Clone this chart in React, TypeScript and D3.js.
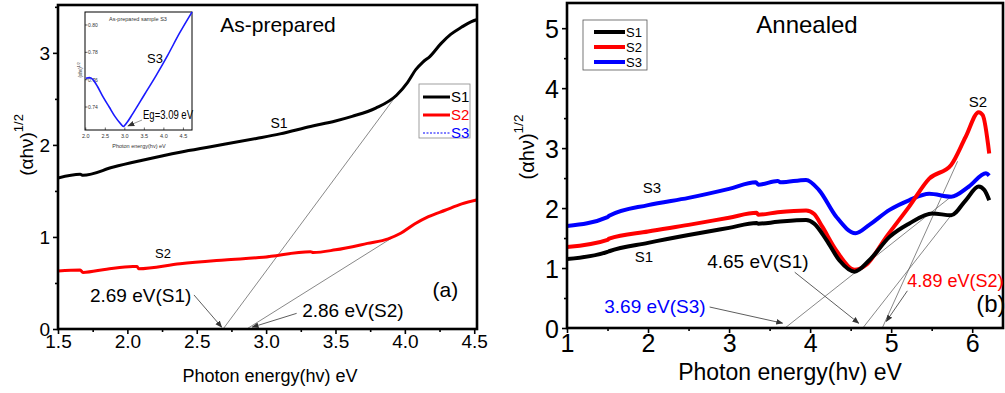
import React, { useEffect, useRef } from 'react';
import * as d3 from 'd3';

type Pt = [number, number];

// (a) as-prepared films
const asPrepS1: Pt[] = [
  [1.5, 1.64], [1.66, 1.68], [1.68, 1.67], [1.9, 1.76], [2.1, 1.83], [2.38, 1.92], [2.6, 1.98],
  [2.93, 2.07], [3.1, 2.12], [3.32, 2.2], [3.5, 2.26], [3.62, 2.31], [3.79, 2.4], [3.94, 2.54],
  [4.02, 2.68], [4.08, 2.82], [4.13, 2.9], [4.18, 2.96], [4.26, 3.1], [4.33, 3.2],
  [4.41, 3.28], [4.48, 3.34], [4.54, 3.37],
];
const asPrepS2: Pt[] = [
  [1.5, 0.63], [1.66, 0.64], [1.68, 0.615], [1.85, 0.65], [2.04, 0.68], [2.07, 0.68], [2.08, 0.655],
  [2.38, 0.71], [2.7, 0.75], [2.98, 0.78], [3.32, 0.84], [3.34, 0.83], [3.5, 0.86], [3.73, 0.93],
  [3.88, 0.98], [3.97, 1.04], [4.07, 1.14], [4.17, 1.22], [4.29, 1.29], [4.41, 1.36], [4.54, 1.41],
];
const asPrepTangents: { from: Pt; to: Pt }[] = [
  { from: [2.69, 0], to: [3.94, 2.54] },
  { from: [2.86, 0], to: [3.96, 1.04] },
];

// inset: as-prepared sample S3
const insetS3: Pt[] = [
  [2.0, 0.761], [2.1, 0.7615], [2.2, 0.7595], [2.3, 0.755], [2.45, 0.747], [2.6, 0.74],
  [2.75, 0.733], [2.9, 0.7275], [2.96, 0.7258], [3.05, 0.7285], [3.2, 0.735], [3.5, 0.749],
  [3.8, 0.763], [4.1, 0.778], [4.4, 0.794], [4.72, 0.8095],
];

// (b) annealed films
const annealS1: Pt[] = [
  [1.0, 1.15], [1.5, 1.27], [1.52, 1.28], [2.0, 1.42], [2.5, 1.55], [3.0, 1.67], [3.34, 1.75],
  [3.36, 1.74], [3.6, 1.77], [3.95, 1.8], [4.05, 1.74], [4.2, 1.47], [4.36, 1.13], [4.55, 0.94],
  [4.73, 1.13], [4.98, 1.52], [5.22, 1.74], [5.51, 1.91], [5.74, 1.88], [5.92, 2.13],
  [6.08, 2.36], [6.15, 2.3], [6.21, 2.13],
];
const annealS2: Pt[] = [
  [1.0, 1.35], [1.5, 1.47], [1.52, 1.49], [2.0, 1.61], [2.5, 1.72], [3.0, 1.84], [3.34, 1.92],
  [3.36, 1.89], [3.6, 1.93], [3.95, 1.96], [4.05, 1.9], [4.15, 1.69], [4.32, 1.3], [4.55, 0.97],
  [4.69, 1.05], [4.94, 1.52], [5.22, 2.02], [5.47, 2.49], [5.74, 2.72], [5.92, 3.19],
  [6.08, 3.6], [6.13, 3.55], [6.21, 2.91],
];
const annealS3: Pt[] = [
  [1.0, 1.7], [1.5, 1.85], [1.52, 1.87], [2.0, 2.05], [2.5, 2.17], [3.0, 2.32], [3.33, 2.43],
  [3.36, 2.39], [3.6, 2.45], [3.64, 2.43], [3.95, 2.47], [4.11, 2.3], [4.32, 1.86], [4.56, 1.58],
  [4.73, 1.72], [4.98, 1.97], [5.22, 2.13], [5.47, 2.24], [5.74, 2.19], [5.96, 2.36],
  [6.17, 2.58], [6.21, 2.54],
];
const annealTangents: { from: Pt; to: Pt }[] = [
  { from: [3.69, 0], to: [5.74, 2.19] },
  { from: [4.65, 0], to: [5.74, 1.88] },
  { from: [4.89, 0], to: [5.82, 2.78] },
];

const leftXTicks = [1.5, 2.0, 2.5, 3.0, 3.5, 4.0, 4.5];
const leftXMinor = [1.75, 2.25, 2.75, 3.25, 3.75, 4.25];
const leftYTicks = [0, 1, 2, 3];
const leftYMinor = [0.5, 1.5, 2.5, 3.5];
const rightXTicks = [1, 2, 3, 4, 5, 6];
const rightXMinor = [1.5, 2.5, 3.5, 4.5, 5.5];
const rightYTicks = [0, 1, 2, 3, 4, 5];
const rightYMinor = [0.5, 1.5, 2.5, 3.5, 4.5];
const insetXTicks = [2.0, 2.5, 3.0, 3.5, 4.0, 4.5];
const insetYTicks = [0.74, 0.76, 0.78, 0.8];

const seriesNames = ['S1', 'S2', 'S3'];
const seriesColors = ['#000000', '#ff0000', '#0000ff'];

const FONT = '"Liberation Sans", Arial, sans-serif';

export default function App() {
  const svgRef = useRef<SVGSVGElement>(null);

  useEffect(() => {
    if (!svgRef.current) return;
    document.body.style.margin = '0';
    const svg = d3.select(svgRef.current);
    svg.selectAll('*').remove();

    const defs = svg.append('defs');
    defs
      .append('marker')
      .attr('id', 'arr')
      .attr('viewBox', '0 0 10 10')
      .attr('refX', 9)
      .attr('refY', 5)
      .attr('markerWidth', 7)
      .attr('markerHeight', 7)
      .attr('markerUnits', 'userSpaceOnUse')
      .attr('orient', 'auto')
      .append('path')
      .attr('d', 'M0,1 L10,5 L0,9 Z')
      .attr('fill', '#333');

    const drawAxes = (
      x: d3.ScaleLinear<number, number>,
      y: d3.ScaleLinear<number, number>,
      xTicks: number[],
      xMinor: number[],
      yTicks: number[],
      yMinor: number[],
      xFmt: (v: number) => string,
      fontSize: number,
      id: string
    ) => {
      const [x0, x1] = x.range();
      const [y0, y1] = y.range();
      defs
        .append('clipPath')
        .attr('id', id)
        .append('rect')
        .attr('x', x0)
        .attr('y', y1)
        .attr('width', x1 - x0)
        .attr('height', y0 - y1);

      const styleAxis = (sel: d3.Selection<SVGGElement, unknown, null, undefined>) => {
        sel.select('.domain').remove();
        sel.selectAll('.tick line').attr('stroke', '#000').attr('stroke-width', 1.6);
        sel
          .selectAll('.tick text')
          .attr('fill', '#000')
          .attr('font-size', fontSize)
          .attr('font-family', FONT);
      };

      const bx = svg
        .append('g')
        .attr('transform', `translate(0,${y0})`)
        .call(d3.axisBottom(x).tickValues(xTicks).tickSize(5).tickSizeOuter(0).tickPadding(1).tickFormat((d) => xFmt(d as number)));
      styleAxis(bx);
      const bm = svg
        .append('g')
        .attr('transform', `translate(0,${y0})`)
        .call(d3.axisBottom(x).tickValues(xMinor).tickSize(3).tickSizeOuter(0).tickFormat(() => ''));
      styleAxis(bm);

      const ly = svg
        .append('g')
        .attr('transform', `translate(${x0},0)`)
        .call(d3.axisLeft(y).tickValues(yTicks).tickSize(5).tickSizeOuter(0).tickPadding(3).tickFormat(d3.format('d')));
      styleAxis(ly);
      ly.selectAll('.tick text').attr('dy', '0.36em');
      const lm = svg
        .append('g')
        .attr('transform', `translate(${x0},0)`)
        .call(d3.axisLeft(y).tickValues(yMinor).tickSize(3).tickSizeOuter(0).tickFormat(() => ''));
      styleAxis(lm);

      svg
        .append('rect')
        .attr('x', x0)
        .attr('y', y1)
        .attr('width', x1 - x0)
        .attr('height', y0 - y1)
        .attr('fill', 'none')
        .attr('stroke', '#000')
        .attr('stroke-width', 2.6);
    };

    const addText = (
      px: number,
      py: number,
      text: string,
      size: number,
      color = '#000',
      anchor = 'start'
    ) =>
      svg
        .append('text')
        .attr('x', px)
        .attr('y', py)
        .attr('font-size', size)
        .attr('font-family', FONT)
        .attr('fill', color)
        .attr('text-anchor', anchor)
        .text(text);

    const yTitle = (cx: number, cy: number, size: number) => {
      const t = svg
        .append('text')
        .attr('transform', `translate(${cx},${cy}) rotate(-90)`)
        .attr('text-anchor', 'middle')
        .attr('font-family', FONT)
        .attr('font-size', size)
        .attr('fill', '#000');
      t.append('tspan').text('(αhν)');
      t.append('tspan').attr('dy', -size * 0.55).attr('font-size', size * 0.68).text('1/2');
    };

    const arrow = (a: Pt, b: Pt, sx: d3.ScaleLinear<number, number>, sy: d3.ScaleLinear<number, number>) =>
      svg
        .append('line')
        .attr('x1', sx(a[0]))
        .attr('y1', sy(a[1]))
        .attr('x2', sx(b[0]))
        .attr('y2', sy(b[1]))
        .attr('stroke', '#333')
        .attr('stroke-width', 0.8)
        .attr('marker-end', 'url(#arr)');

    // ---------- (a) as-prepared ----------
    const xa = d3.scaleLinear().domain([1.5, 4.52]).range([58, 477]);
    const ya = d3.scaleLinear().domain([0, 3.52]).range([329, 5]);
    const lineA = d3
      .line<Pt>()
      .x((d) => xa(d[0]))
      .y((d) => ya(d[1]))
      .curve(d3.curveMonotoneX);

    const ga = svg.append('g').attr('clip-path', 'url(#clipA)');
    asPrepTangents.forEach((t) => {
      ga.append('line')
        .attr('x1', xa(t.from[0]))
        .attr('y1', ya(t.from[1]))
        .attr('x2', xa(t.to[0]))
        .attr('y2', ya(t.to[1]))
        .attr('stroke', '#555')
        .attr('stroke-width', 0.7);
    });
    ga.append('path').attr('d', lineA(asPrepS2)!).attr('fill', 'none').attr('stroke', '#ff0000').attr('stroke-width', 3);
    ga.append('path').attr('d', lineA(asPrepS1)!).attr('fill', 'none').attr('stroke', '#000').attr('stroke-width', 3);

    drawAxes(xa, ya, leftXTicks, leftXMinor, leftYTicks, leftYMinor, d3.format('.1f'), 19, 'clipA');

    addText(278, 32, 'As-prepared', 21, '#000', 'middle');
    addText(279, 128, 'S1', 14, '#000', 'middle');
    addText(163, 258, 'S2', 13, '#000', 'middle');
    addText(xa(1.73), ya(0.29), '2.69 eV(S1)', 19);
    arrow([2.48, 0.37], [2.68, 0.02], xa, ya);
    addText(xa(3.26), ya(0.13), '2.86 eV(S2)', 19);
    arrow([3.22, 0.17], [2.9, 0.02], xa, ya);
    addText(xa(4.2), ya(0.35), '(a)', 21);

    // legend (a)
    const lga = svg.append('g');
    lga.append('rect').attr('x', 419).attr('y', 84).attr('width', 51).attr('height', 54)
      .attr('fill', '#fff').attr('stroke', '#888').attr('stroke-width', 0.8);
    seriesNames.forEach((n, i) => {
      const yy = 97 + i * 18;
      lga.append('line').attr('x1', 423).attr('x2', 450).attr('y1', yy).attr('y2', yy)
        .attr('stroke', seriesColors[i])
        .attr('stroke-width', i === 2 ? 1.2 : 3)
        .attr('stroke-dasharray', i === 2 ? '2,1.5' : null);
      lga.append('text').attr('x', 451).attr('y', yy + 5).attr('font-size', 15).attr('font-family', FONT)
        .attr('fill', seriesColors[i]).text(n);
    });

    yTitle(33, 145, 19);
    addText(270, 382, 'Photon energy(hv) eV', 18, '#000', 'middle');

    // ---------- inset ----------
    const xi = d3.scaleLinear().domain([1.98, 4.72]).range([85, 192]);
    const yi = d3.scaleLinear().domain([0.7232, 0.8095]).range([130, 12]);
    svg.append('rect').attr('x', 85).attr('y', 12).attr('width', 107).attr('height', 118)
      .attr('fill', '#fff').attr('stroke', '#000').attr('stroke-width', 1);
    insetXTicks.forEach((v) => {
      svg.append('line').attr('x1', xi(v)).attr('x2', xi(v)).attr('y1', 130).attr('y2', 127.5)
        .attr('stroke', '#000').attr('stroke-width', 0.6);
      addText(xi(v), 138, d3.format('.1f')(v), 5.5, '#333', 'middle');
    });
    insetYTicks.forEach((v) => {
      svg.append('line').attr('x1', 85).attr('x2', 87.5).attr('y1', yi(v)).attr('y2', yi(v))
        .attr('stroke', '#000').attr('stroke-width', 0.6);
      addText(88, yi(v) + 2, d3.format('.2f')(v), 5, '#333');
    });
    const lineI = d3
      .line<Pt>()
      .x((d) => xi(d[0]))
      .y((d) => yi(d[1]))
      .curve(d3.curveMonotoneX);
    svg.append('path').attr('d', lineI(insetS3)!).attr('fill', 'none').attr('stroke', '#1a1aff').attr('stroke-width', 1.6);
    addText(138, 21, 'As-prepared sample S3', 5.5, '#333', 'middle');
    addText(155, 63, 'S3', 13, '#000', 'middle');
    addText(143, 119, 'Eg=3.09 eV', 12).attr('textLength', 50).attr('lengthAdjust', 'spacingAndGlyphs');
    arrow([3.44, 0.7305], [3.08, 0.7262], xi, yi).attr('stroke-width', 0.5);
    addText(139, 148, 'Photon energy(hv) eV', 5.5, '#333', 'middle');
    const it = svg.append('text').attr('transform', 'translate(82,70) rotate(-90)').attr('text-anchor', 'middle')
      .attr('font-family', FONT).attr('font-size', 4.5).attr('fill', '#333');
    it.append('tspan').text('(αhν)');
    it.append('tspan').attr('dy', -2.5).attr('font-size', 3.5).text('1/2');

    // ---------- (b) annealed ----------
    const xb = d3.scaleLinear().domain([1, 6.38]).range([567, 1003]);
    const yb = d3.scaleLinear().domain([0, 5.42]).range([328, 3]);
    const lineB = d3
      .line<Pt>()
      .x((d) => xb(d[0]))
      .y((d) => yb(d[1]))
      .curve(d3.curveMonotoneX);

    const gb = svg.append('g').attr('clip-path', 'url(#clipB)');
    annealTangents.forEach((t) => {
      gb.append('line')
        .attr('x1', xb(t.from[0]))
        .attr('y1', yb(t.from[1]))
        .attr('x2', xb(t.to[0]))
        .attr('y2', yb(t.to[1]))
        .attr('stroke', '#555')
        .attr('stroke-width', 0.7);
    });
    [annealS3, annealS2, annealS1].forEach((s, i) => {
      gb.append('path').attr('d', lineB(s)!).attr('fill', 'none')
        .attr('stroke', seriesColors[2 - i]).attr('stroke-width', 4);
    });

    drawAxes(xb, yb, rightXTicks, rightXMinor, rightYTicks, rightYMinor, d3.format('d'), 25, 'clipB');

    addText(807, 33, 'Annealed', 24, '#000', 'middle');
    addText(652, 193, 'S3', 15, '#000', 'middle');
    addText(644, 262, 'S1', 15, '#000', 'middle');
    addText(978, 107, 'S2', 15, '#000', 'middle');
    addText(xb(2.73), yb(1.0), '4.65 eV(S1)', 19);
    arrow([3.81, 0.93], [4.6, 0.08], xb, yb);
    addText(xb(5.2), yb(0.68), '4.89 eV(S2)', 18, '#ff0000');
    arrow([5.2, 0.62], [4.94, 0.11], xb, yb);
    addText(xb(1.46), yb(0.25), '3.69 eV(S3)', 19, '#0000ff');
    arrow([2.76, 0.35], [3.66, 0.08], xb, yb);
    addText(xb(6.05), yb(0.27), '(b)', 24);

    // legend (b)
    const lgb = svg.append('g');
    lgb.append('rect').attr('x', 583).attr('y', 20).attr('width', 64).attr('height', 50)
      .attr('fill', '#fff').attr('stroke', '#555').attr('stroke-width', 0.8);
    seriesNames.forEach((n, i) => {
      const yy = 32 + i * 15;
      lgb.append('line').attr('x1', 594).attr('x2', 625).attr('y1', yy).attr('y2', yy)
        .attr('stroke', seriesColors[i]).attr('stroke-width', 4);
      lgb.append('text').attr('x', 626).attr('y', yy + 4.5).attr('font-size', 13).attr('font-family', FONT)
        .attr('fill', '#000').text(n);
    });

    yTitle(534, 147, 20);
    addText(790, 380, 'Photon energy(hv) eV', 23, '#000', 'middle');
  }, []);

  return (
    <div style={{ width: 1005, height: 393, background: '#fff' }}>
      <svg ref={svgRef} width={1005} height={393} style={{ display: 'block' }} />
    </div>
  );
}
